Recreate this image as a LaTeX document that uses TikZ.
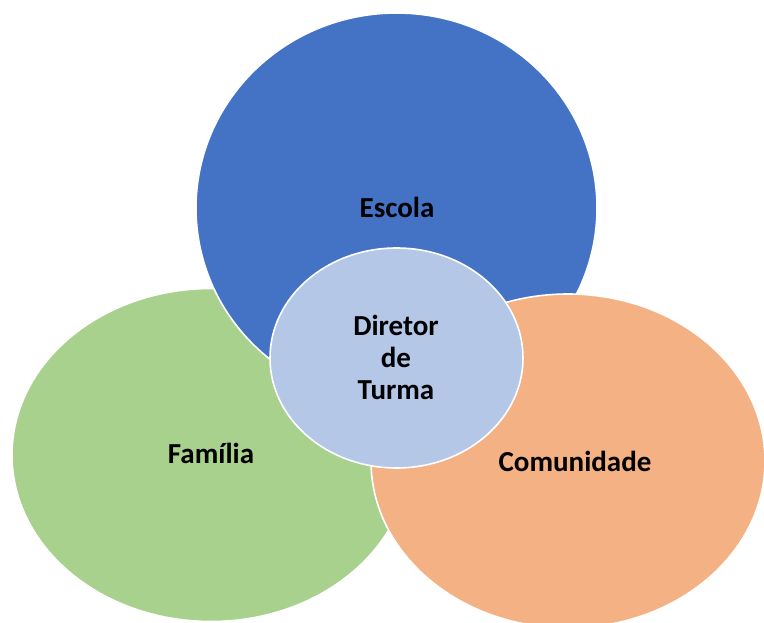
\documentclass[tikz,border=0pt]{standalone}
\usepackage{fontspec}
\setmainfont{Carlito}
\usetikzlibrary{shapes.geometric}
\definecolor{cblue}{HTML}{4472C4}
\definecolor{cgreen}{HTML}{A9D18E}
\definecolor{corange}{HTML}{F4B183}
\definecolor{clight}{HTML}{B4C7E7}
\tikzset{
  blob/.style={ellipse, draw=white, line width=1.6pt, inner sep=0pt},
  lbl/.style={font=\fontsize{29}{32}\selectfont\bfseries, text=black, align=center}
}
\begin{document}
\begin{tikzpicture}[x=1pt,y=-1pt]
\useasboundingbox (0,0) rectangle (764,623);
\clip (0,0) rectangle (764,623);
\node[blob, fill=cgreen, minimum width=398pt, minimum height=333pt] (familia) at (211,455) {};
\node[blob, fill=cblue, minimum width=401pt, minimum height=390pt] (escola) at (396.5,208) {};
\node[blob, fill=corange, minimum width=394pt, minimum height=334pt] (comunidade) at (568,461) {};
\node[blob, fill=clight, minimum width=253pt, minimum height=220pt] (diretor) at (396.5,358) {};
\node[lbl] (tescola) at (397,207) {Escola};
\node[lbl] (tfamilia) at (211,453) {Família};
\node[lbl] (tcomunidade) at (575,461) {Comunidade};
\node[lbl] (tdiretor) at (396,357) {Diretor\\de\\Turma};
\end{tikzpicture}
\end{document}
